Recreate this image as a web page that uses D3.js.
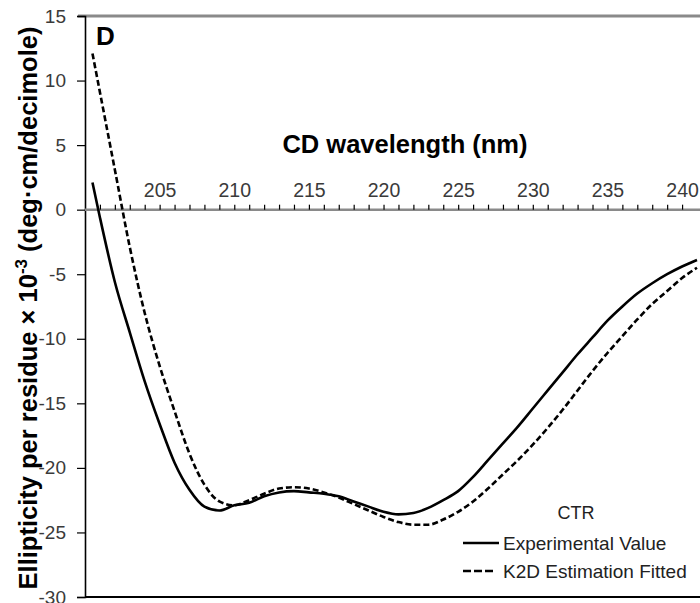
<!DOCTYPE html>
<html>
<head>
<meta charset="utf-8">
<script src="https://cdn.jsdelivr.net/npm/d3@7"></script>
<style>
  body { margin: 0; background: #fff; }
  text { font-family: "Liberation Sans", Arial, sans-serif; }
</style>
</head>
<body>
<svg id="chart" width="700" height="603"></svg>
<script>
// wavelengths (nm) and mean residue ellipticity (x 10^-3)
var wavelength = [200.5, 201, 202, 203, 204, 205, 206, 207, 208, 209, 210,
  211, 212, 213, 214, 215, 216, 217, 218, 219, 220, 221, 222, 223, 224, 225,
  226, 227, 228, 229, 230, 231, 232, 233, 234, 235, 236, 237, 238, 239, 240, 241];

var experimental = [2.1, -0.6, -5.6, -9.5, -13.3, -16.6, -19.6, -21.7, -23.0, -23.3, -22.9,
  -22.7, -22.2, -21.9, -21.8, -21.9, -22.0, -22.2, -22.6, -23.0, -23.4, -23.6, -23.5, -23.1, -22.5, -21.8,
  -20.7, -19.4, -18.1, -16.8, -15.4, -14.0, -12.6, -11.2, -9.9, -8.6, -7.5, -6.5, -5.7, -5.0, -4.4, -3.9];

var k2dFitted = [12.1, 9.1, 3.1, -2.9, -8.0, -12.1, -15.6, -18.9, -21.3, -22.6, -22.9,
  -22.5, -22.0, -21.6, -21.5, -21.6, -21.9, -22.3, -22.8, -23.3, -23.8, -24.2, -24.4, -24.4, -24.0, -23.4,
  -22.6, -21.6, -20.5, -19.4, -18.2, -16.9, -15.5, -14.0, -12.5, -11.1, -9.8, -8.5, -7.3, -6.3, -5.3, -4.5];

var xTickLabels = [205, 210, 215, 220, 225, 230, 235, 240];
var yTicks = [15, 10, 5, 0, -5, -10, -15, -20, -25, -30];
var seriesNames = ["Experimental Value", "K2D Estimation Fitted"];

var svg = d3.select("#chart");

var x = d3.scaleLinear().domain([200, 241]).range([85, 697]);
var y = d3.scaleLinear().domain([-30, 15]).range([597, 16]);

// top border (grey) and bottom border (black) run to the page edge
svg.append("line")
    .attr("x1", 78).attr("x2", 700)
    .attr("y1", y(15)).attr("y2", y(15))
    .style("stroke", "#8a8a8a").style("stroke-width", 3);
svg.append("line")
    .attr("x1", x(200)).attr("x2", 700)
    .attr("y1", y(-30)).attr("y2", y(-30))
    .style("stroke", "#000").style("stroke-width", 2);

// y axis on the left
var yAxis = d3.axisLeft(y)
    .tickValues(yTicks)
    .tickSize(8)
    .tickFormat(function(d) { return String(d); });

var gy = svg.append("g")
    .attr("transform", "translate(" + x(200) + ",0)")
    .call(yAxis);
gy.select(".domain").style("stroke", "#000").style("stroke-width", 1.6);
gy.selectAll(".tick line").style("stroke", "#000").style("stroke-width", 1.2);
gy.selectAll(".tick text")
    .attr("x", -19)
    .style("font-size", "19px")
    .style("font-family", "Liberation Sans, Arial, sans-serif")
    .style("fill", "#3a3a3a");

// x axis sits on y = 0, ticks pointing up, labels every 5 nm
var gx = svg.append("g")
    .attr("transform", "translate(0," + y(0) + ")")
    .call(d3.axisTop(x)
      .tickValues(d3.range(201, 241))
      .tickSize(5)
      .tickSizeOuter(0)
      .tickFormat(function(d) { return xTickLabels.indexOf(d) >= 0 ? d : ""; }));
gx.select(".domain")
    .attr("d", "M" + x(200) + ",0H700")
    .style("stroke", "#8a8a8a").style("stroke-width", 2.5);
gx.selectAll(".tick line").style("stroke", "#000").style("stroke-width", 1.2);
gx.selectAll(".tick text")
    .attr("y", -13)
    .style("font-size", "19.5px")
    .style("font-family", "Liberation Sans, Arial, sans-serif")
    .style("fill", "#3a3a3a");

// curves
var line = d3.line()
    .x(function(d) { return x(d[0]); })
    .y(function(d) { return y(d[1]); })
    .curve(d3.curveMonotoneX);

svg.append("path")
    .datum(d3.zip(wavelength, experimental))
    .attr("d", line)
    .style("fill", "none").style("stroke", "#000").style("stroke-width", 2.6);

svg.append("path")
    .datum(d3.zip(wavelength, k2dFitted))
    .attr("d", line)
    .style("fill", "none").style("stroke", "#000").style("stroke-width", 2.6)
    .style("stroke-dasharray", "6,3");

// panel letter and titles
svg.append("text")
    .attr("x", 96).attr("y", 45)
    .style("font-size", "26px").style("font-weight", "bold")
    .text("D");

svg.append("text")
    .attr("x", 405).attr("y", 153)
    .attr("text-anchor", "middle")
    .style("font-size", "25.5px").style("font-weight", "bold")
    .text("CD wavelength (nm)");

var ytitle = svg.append("text")
    .attr("transform", "translate(37,308) rotate(-90)")
    .attr("text-anchor", "middle")
    .style("font-size", "25.5px").style("font-weight", "bold");
ytitle.append("tspan").text("Ellipticity per residue \u00d7 10");
ytitle.append("tspan").attr("dy", -10).style("font-size", "17px").text("-3");
ytitle.append("tspan").attr("dy", 10).text(" (deg\u00b7cm/decimole)");

// legend
svg.append("text")
    .attr("x", 576).attr("y", 519)
    .attr("text-anchor", "middle")
    .style("font-size", "18px").style("fill", "#222")
    .text("CTR");

var legend = svg.selectAll(".legend")
    .data(seriesNames)
    .enter().append("g")
    .attr("class", "legend")
    .attr("transform", function(d, i) { return "translate(463," + (543 + i * 28) + ")"; });

legend.append("line")
    .attr("x1", 0).attr("x2", function(d, i) { return i ? 33 : 36; })
    .style("stroke", "#000").style("stroke-width", 2.6)
    .style("stroke-dasharray", function(d, i) { return i ? "8,3" : null; });

legend.append("text")
    .attr("x", 40).attr("y", 7)
    .style("font-size", "19px").style("fill", "#222")
    .text(function(d) { return d; });
</script>
</body>
</html>
